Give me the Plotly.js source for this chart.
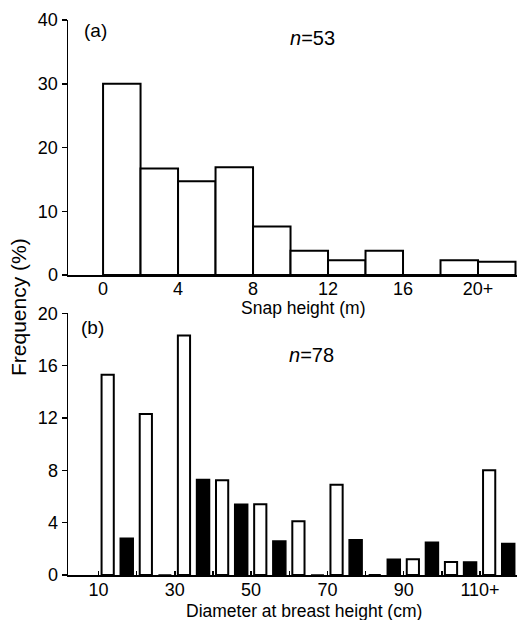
<!DOCTYPE html>
<html>
<head>
<meta charset="utf-8">
<script src="https://cdn.plot.ly/plotly-3.0.1.min.js"></script>
<style>html,body{margin:0;padding:0;background:#fff;}#chart{width:518px;height:620px;}</style>
</head>
<body>
<div id="chart"></div>
<script>
// (a) snap height histogram, 2 m bins (bin lower edges)
const snapBins = [0, 2, 4, 6, 8, 10, 12, 14, 16, 18, 20];
const snapFreq = [30.0, 16.7, 14.7, 16.9, 7.6, 3.8, 2.3, 3.8, 0, 2.3, 2.1];
const snapTickVals = [0, 4, 8, 12, 16, 20];
const snapTickText = ['0', '4', '8', '12', '16', '20+'];

// (b) diameter at breast height, 10 cm classes (class lower edges)
const dbhBins = [10, 20, 30, 40, 50, 60, 70, 80, 90, 100, 110];
const dbhOpen = [15.3, 12.3, 18.3, 7.25, 5.4, 4.1, 6.9, 0, 1.2, 1.0, 8.0];
const dbhFilled = [2.8, 0, 7.3, 5.4, 2.6, 0, 2.7, 1.2, 2.5, 1.0, 2.4];
const dbhTickVals = [10, 20, 30, 40, 50, 60, 70, 80, 90, 100, 110];
const dbhTickText = ['10', '', '30', '', '50', '', '70', '', '90', '', '110+'];

const FONT = 'Liberation Sans, Arial, sans-serif';

const traces = [
  {
    type: 'bar', x: snapBins, y: snapFreq, xaxis: 'x', yaxis: 'y',
    offset: 0, width: 2,
    marker: {color: '#ffffff', line: {color: '#000000', width: 2}},
    showlegend: false
  },
  {
    type: 'bar', x: dbhBins, y: dbhOpen, xaxis: 'x2', yaxis: 'y2',
    offset: 0.8, width: 3.2,
    marker: {color: '#ffffff', line: {color: '#000000', width: 2}},
    showlegend: false
  },
  {
    type: 'bar', x: dbhBins, y: dbhFilled, xaxis: 'x2', yaxis: 'y2',
    offset: 5.7, width: 3.4,
    marker: {color: '#000000', line: {color: '#000000', width: 1.5}},
    showlegend: false
  }
];

const axisCommon = {
  showgrid: false, zeroline: false, showline: true,
  linecolor: '#000000', linewidth: 1.5,
  tickfont: {family: FONT, size: 18, color: '#000000'},
  tickcolor: '#000000', fixedrange: true
};

const layout = {
  width: 518, height: 620,
  margin: {l: 68, r: 1, t: 20, b: 45},
  paper_bgcolor: '#ffffff', plot_bgcolor: '#ffffff',
  barmode: 'overlay',
  font: {family: FONT, color: '#000000'},
  xaxis: Object.assign({}, axisCommon, {
    domain: [0, 1], anchor: 'y', range: [-1.87, 22.08],
    tickmode: 'array', tickvals: snapTickVals, ticktext: snapTickText,
    ticks: '', ticklen: 0, ticklabelstandoff: -3
  }),
  yaxis: Object.assign({}, axisCommon, {
    domain: [0.5405, 1], anchor: 'x', range: [0, 40],
    tickmode: 'array', tickvals: [0, 10, 20, 30, 40],
    ticks: 'outside', ticklen: 5, tickwidth: 1.5
  }),
  xaxis2: Object.assign({}, axisCommon, {
    domain: [0, 1], anchor: 'y2', range: [2.0, 119.7],
    tickmode: 'array', tickvals: dbhTickVals, ticktext: dbhTickText,
    ticks: 'inside', ticklen: 4, tickwidth: 1.5, ticklabelstandoff: -2
  }),
  yaxis2: Object.assign({}, axisCommon, {
    domain: [0, 0.4715], anchor: 'x2', range: [0, 20],
    tickmode: 'array', tickvals: [0, 4, 8, 12, 16, 20],
    ticks: 'outside', ticklen: 5, tickwidth: 1.5
  }),
  annotations: [
    {text: 'Frequency (%)', xref: 'paper', yref: 'paper', x: -0.109, y: 0.483,
     textangle: -90, showarrow: false, xanchor: 'center', yanchor: 'middle',
     font: {family: FONT, size: 21, color: '#000000'}},
    {text: 'Snap height (m)', xref: 'paper', yref: 'paper', x: 0.5234, y: (575 - 308) / 555,
     showarrow: false, xanchor: 'center', yanchor: 'middle',
     font: {family: FONT, size: 17.5, color: '#000000'}},
    {text: 'Diameter at breast height (cm)', xref: 'paper', yref: 'paper', x: 0.5256, y: (575 - 611) / 555,
     showarrow: false, xanchor: 'center', yanchor: 'middle',
     font: {family: FONT, size: 17.5, color: '#000000'}},
    {text: '(a)', xref: 'paper', yref: 'paper', x: (95 - 68) / 449, y: (575 - 30) / 555,
     showarrow: false, xanchor: 'center', yanchor: 'middle',
     font: {family: FONT, size: 19, color: '#000000'}},
    {text: '<i>n</i>=53', xref: 'paper', yref: 'paper', x: (312 - 68) / 449, y: (575 - 38) / 555,
     showarrow: false, xanchor: 'center', yanchor: 'middle',
     font: {family: FONT, size: 20, color: '#000000'}},
    {text: '(b)', xref: 'paper', yref: 'paper', x: (92 - 68) / 449, y: (575 - 327) / 555,
     showarrow: false, xanchor: 'center', yanchor: 'middle',
     font: {family: FONT, size: 19, color: '#000000'}},
    {text: '<i>n</i>=78', xref: 'paper', yref: 'paper', x: (311 - 68) / 449, y: (575 - 355) / 555,
     showarrow: false, xanchor: 'center', yanchor: 'middle',
     font: {family: FONT, size: 20, color: '#000000'}}
  ]
};

Plotly.newPlot('chart', traces, layout, {staticPlot: true, displayModeBar: false});
</script>
</body>
</html>
